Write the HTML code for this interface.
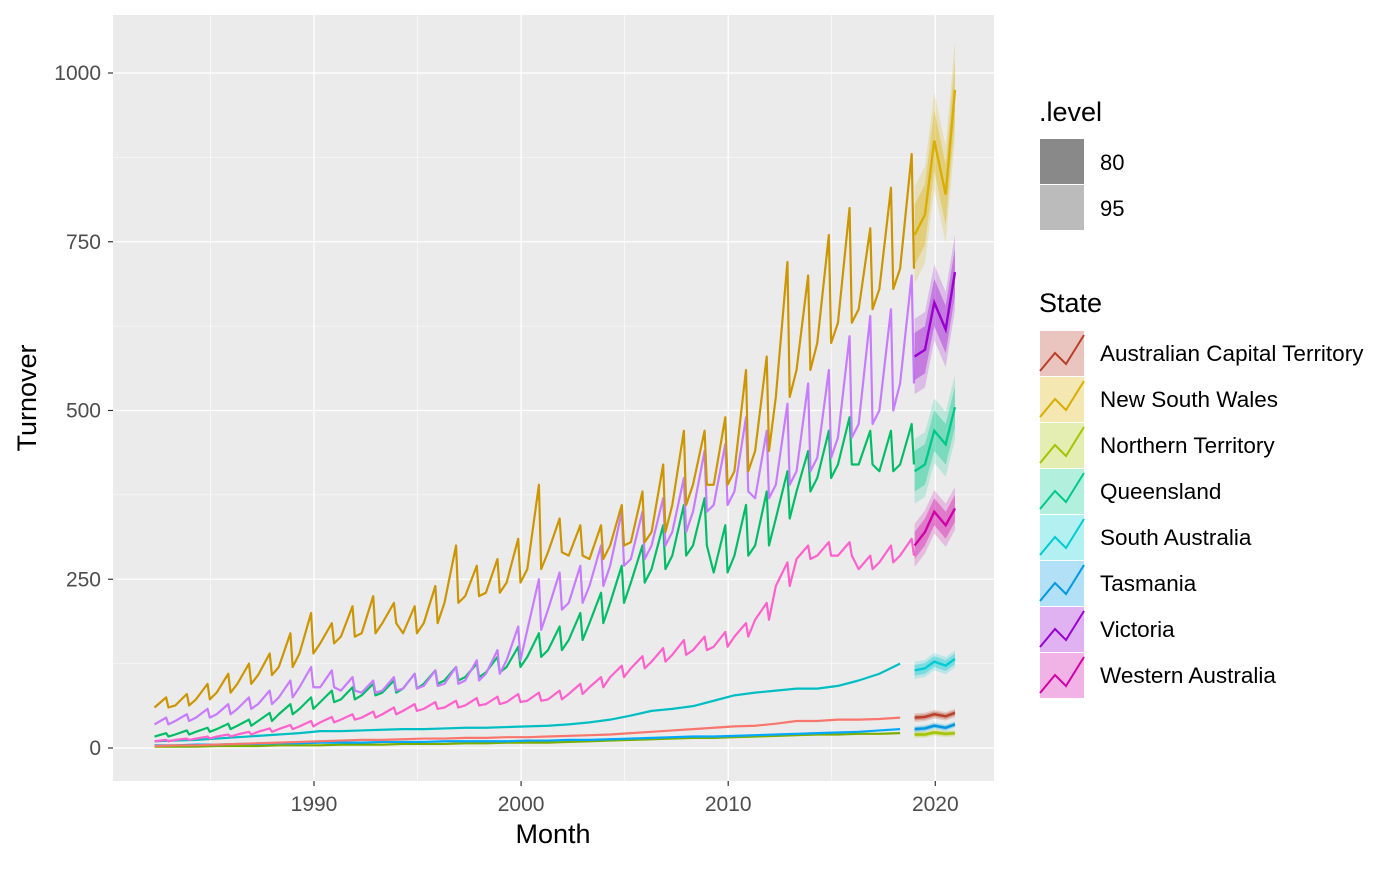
<!DOCTYPE html>
<html><head><meta charset="utf-8"><style>
body{margin:0;background:#fff;font-family:"Liberation Sans",sans-serif;}
svg text{font-family:"Liberation Sans",sans-serif;}
</style></head><body>
<svg id="chart" width="1400" height="865" xmlns="http://www.w3.org/2000/svg">
<rect x="113" y="15" width="881" height="766" fill="#EBEBEB"/>
<g id="grid"></g><g id="series"></g><g id="axes"></g><g id="legend"></g>
</svg>
<script>
const years = Array.from({length:37},(_,i)=>1982+i);
const stateNames = ["Australian Capital Territory","New South Wales","Northern Territory","Queensland","South Australia","Tasmania","Victoria","Western Australia"];
const stateColors = ["#F8766D","#CD9600","#7CAE00","#00BE67","#00BFC4","#00A9FF","#C77CFF","#FF61CC"];
const fcColors = ["#B8402A","#D9AE00","#A5C400","#00C98A","#00CCD4","#0099E0","#9A00D0","#D000A8"];
const actBase=[3,4,4,5,6,7,8,9,10,11,12,12,13,14,14,15,15,16,16,17,18,19,20,22,24,26,28,30,32,33,36,40,40,42,42,43,45];
const nswBase=[60,63,72,82,95,108,120,140,155,165,170,185,170,185,215,225,230,245,265,290,285,280,300,305,320,360,390,390,410,440,520,560,600,630,650,680,710];
const nswPeak=[75,80,95,110,125,140,170,200,185,210,225,215,210,240,300,270,280,310,390,340,330,330,360,380,420,470,470,490,560,580,720,700,760,800,770,830,880];
const ntBase=[2,2,2,3,3,3,4,4,4,5,5,5,6,6,6,7,7,8,8,8,9,10,11,12,13,14,15,15,16,17,18,19,20,20,21,21,22];
const qldBase=[17,20,24,28,33,40,50,58,68,72,78,82,88,95,100,105,112,120,135,145,160,185,215,245,265,285,300,260,285,300,340,380,400,420,420,410,420];
const qldPeak=[22,26,30,36,42,52,65,75,85,90,95,100,110,115,120,125,135,150,170,180,200,230,270,300,330,360,370,330,360,380,410,440,470,490,470,470,480];
const saBase=[10,11,12,14,16,18,20,22,25,25,26,27,28,28,29,30,30,31,32,33,35,38,42,48,55,58,62,70,78,82,85,88,88,92,100,110,125];
const tasBase=[4,4,5,5,6,6,7,7,8,8,8,9,9,9,10,10,10,10,11,11,12,12,13,14,15,16,17,17,18,19,20,21,22,23,24,26,28];
const vicBase=[35,40,45,50,58,65,75,90,90,85,82,85,88,92,95,100,110,130,175,205,215,240,270,280,300,320,350,360,380,370,390,410,430,460,480,500,540];
const vicPeak=[45,50,58,65,75,85,100,120,115,105,100,105,110,115,120,130,145,180,250,260,270,300,350,350,370,400,440,450,490,470,510,540,560,610,640,650,700];
const waBase=[10,12,14,17,20,24,28,32,38,42,45,50,55,58,60,63,65,68,70,72,80,90,105,118,128,138,145,150,165,190,240,280,285,285,265,275,285];
const waPeak=[12,14,17,20,24,29,34,40,46,50,54,60,65,68,70,74,76,80,82,85,95,105,122,136,148,160,165,172,185,215,275,300,305,305,285,300,310];
const fcTimes=[2019.0,2019.5,2019.95,2020.5,2020.95];
const actFc=[45,46,50,47,52], nswFc=[760,790,900,820,975], ntFc=[20,20,23,21,22], qldFc=[410,420,470,450,505];
const saFc=[115,118,128,122,132], tasFc=[28,29,33,30,35], vicFc=[580,590,660,620,705], waFc=[300,320,350,330,355];
const fc80=[4,45,3,30,8,3,35,20];
const xTicks=[1990,2000,2010,2020], xMinor=[1985,1995,2005,2015];
const yTicks=[0,250,500,750,1000], yMinor=[125,375,625,875];

const NS="http://www.w3.org/2000/svg";
const X=t=>314+(t-1990)*20.71;
const Y=v=>748-v*0.675;
function mk(tag,attrs,parent){const e=document.createElementNS(NS,tag);for(const k in attrs)e.setAttribute(k,attrs[k]);parent.appendChild(e);return e;}
const grid=document.getElementById('grid'),axes=document.getElementById('axes'),ser=document.getElementById('series'),leg=document.getElementById('legend');
xMinor.forEach(t=>{const l=mk('line',{x1:X(t),x2:X(t),y1:15,y2:781,stroke:'#fff','stroke-width':0.6},grid);

});
yMinor.forEach(v=>{const l=mk('line',{x1:113,x2:994,y1:Y(v),y2:Y(v),stroke:'#fff','stroke-width':0.6},grid);

});
xTicks.forEach(t=>{const l=mk('line',{x1:X(t),x2:X(t),y1:15,y2:781,stroke:'#fff','stroke-width':1.3},grid);


const tk=mk('line',{x1:X(t),x2:X(t),y1:781,y2:786,stroke:'#333','stroke-width':1.2},axes);


const tx=mk('text',{x:X(t),y:811,'text-anchor':'middle','font-size':21,fill:'#4D4D4D'},axes);tx.textContent=t;

});
yTicks.forEach(v=>{const l=mk('line',{x1:113,x2:994,y1:Y(v),y2:Y(v),stroke:'#fff','stroke-width':1.3},grid);


const tk=mk('line',{x1:108,x2:113,y1:Y(v),y2:Y(v),stroke:'#333','stroke-width':1.2},axes);


const tx=mk('text',{x:101,y:Y(v)+7,'text-anchor':'end','font-size':21,fill:'#4D4D4D'},axes);tx.textContent=v;

});
const xt=mk('text',{x:553,y:843,'text-anchor':'middle','font-size':27},axes);xt.textContent='Month';


const yt=mk('text',{x:36,y:398,'text-anchor':'middle','font-size':27,transform:'rotate(-90 36 398)'},axes);yt.textContent='Turnover';



const bases=[actBase,nswBase,ntBase,qldBase,saBase,tasBase,vicBase,waBase];
const peaks=[null,nswPeak,null,qldPeak,null,null,vicPeak,waPeak];
const fcs=[actFc,nswFc,ntFc,qldFc,saFc,tasFc,vicFc,waFc];
const keys=['act','nsw','nt','qld','sa','tas','vic','wa'];
[2,5,0,4,7,3,6,1].forEach(s=>{
  const pts=[];
  years.forEach((yr,i)=>{
    pts.push([X(yr+0.3),Y(bases[s][i])]);
    if(peaks[s]){pts.push([X(yr+0.86),Y(peaks[s][i])]);pts.push([X(yr+0.97),Y(bases[s][i])]);}
  });
  const p=mk('polyline',{points:pts.map(q=>q.join(',')).join(' '),fill:'none',stroke:stateColors[s],'stroke-width':2.2,'stroke-linejoin':'round'},ser);
  
  
  [1.6,1].forEach((m,k)=>{
    const up=fcTimes.map((t,i)=>X(t)+','+Y(fcs[s][i]+fc80[s]*m)),dn=fcTimes.map((t,i)=>X(t)+','+Y(fcs[s][i]-fc80[s]*m)).reverse();
    const r=mk('polygon',{points:up.concat(dn).join(' '),fill:fcColors[s],'fill-opacity':k?0.35:0.2},ser);
    
    
  });
  const f=mk('polyline',{points:fcTimes.map((t,i)=>X(t)+','+Y(fcs[s][i])).join(' '),fill:'none',stroke:fcColors[s],'stroke-width':2.4},ser);
  
  
});

// legend
const lt=mk('text',{x:1039,y:121,'font-size':27},leg);lt.textContent='.level';


[['80','#898989',139],['95','#BBBBBB',185]].forEach(a=>{
  const r=mk('rect',{x:1040,y:a[2],width:44,height:45,fill:a[1]},leg);
  
  
  const t=mk('text',{x:1100,y:a[2]+31,'font-size':22},leg);t.textContent=a[0];
  
  
});
const st=mk('text',{x:1039,y:312,'font-size':27},leg);st.textContent='State';


stateNames.forEach((n,i)=>{
  const y0=331+i*46;
  const g=mk('g',{},leg);
  
  
  mk('rect',{x:1040,y:y0,width:44,height:45,fill:fcColors[i],'fill-opacity':0.3},g);
  mk('polyline',{points:`${1040},${y0+40} ${1055},${y0+22} ${1066},${y0+33} ${1084},${y0+4}`,fill:'none',stroke:fcColors[i],'stroke-width':2},g);
  const t=mk('text',{x:1100,y:y0+30,'font-size':22.5},g);t.textContent=n;
});
</script>
</body></html>
